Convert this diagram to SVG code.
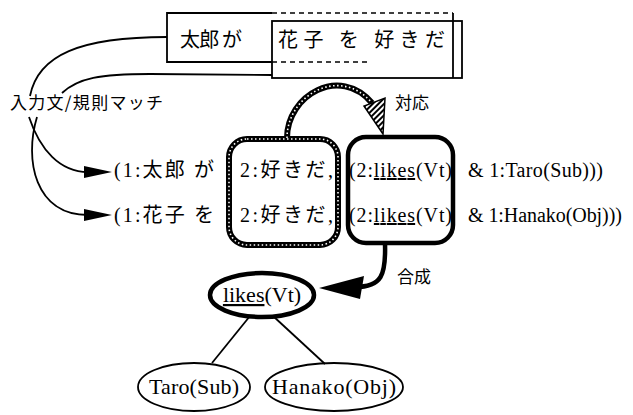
<svg xmlns="http://www.w3.org/2000/svg" width="633" height="415" viewBox="0 0 633 415">
<style>
.ln{fill:none;stroke:#000;stroke-width:1.8}
.dash{fill:none;stroke:#000;stroke-width:1.6;stroke-dasharray:5 4}
.thick{fill:none;stroke:#000;stroke-width:4.5}
.hb{fill:none;stroke:#000;stroke-width:6}
.hw{fill:none;stroke:#fff;stroke-width:1.6;stroke-dasharray:1.5 2.5}
.jp{font-family:"Noto Sans CJK JP","Noto Sans",sans-serif;fill:#000}
.rm{font-family:"Liberation Serif","Noto Sans CJK JP",serif;fill:#000}
</style>
<defs>
<pattern id="hatch" width="4" height="4" patternUnits="userSpaceOnUse" patternTransform="rotate(45)">
<rect width="4" height="4" fill="#fff"/><rect width="2" height="4" fill="#000"/>
</pattern>
</defs>
<rect width="633" height="415" fill="#fff"/>

<g id="sentence-box">
<path class="ln" d="M272 13 H167 V62 H272"/>
<path class="dash" d="M272 13 H453"/>
<path class="ln" d="M453 13 V78"/>
<path class="dash" d="M272 62 H367"/>
<rect class="ln" x="272" y="21" width="190" height="57"/>
<text class="jp" x="180" y="47" font-size="20" textLength="62">太郎 が</text>
<text class="jp" x="278" y="47" font-size="20" textLength="167">花子 を 好きだ</text>
</g>

<g id="match-label">
<text class="jp" x="10" y="109" font-size="17" textLength="153">入力文/規則マッチ</text>
</g>

<g id="rule-rows">
<text class="rm" x="114" y="177" font-size="20" textLength="100">(1:太郎 が</text>
<text class="rm" x="114" y="222" font-size="20" textLength="100">(1:花子 を</text>
<text class="rm" x="468" y="177" font-size="20" textLength="135">&amp; 1:Taro(Sub)))</text>
<text class="rm" x="468" y="222" font-size="20" textLength="154">&amp; 1:Hanako(Obj)))</text>
</g>

<g id="japanese-box">
<rect class="hb" x="229" y="139" width="109" height="106" rx="18"/>
<rect class="hw" x="229" y="139" width="109" height="106" rx="18"/>
<text class="rm" x="240" y="177" font-size="20" textLength="93">2:好きだ,</text>
<text class="rm" x="240" y="222" font-size="20" textLength="93">2:好きだ,</text>
</g>

<g id="english-box">
<rect class="thick" x="348" y="137" width="105" height="106" rx="18"/>
<text class="rm" x="349" y="177" font-size="20" textLength="103">(2:<tspan text-decoration="underline">likes</tspan>(Vt)</text>
<text class="rm" x="349" y="222" font-size="20" textLength="103">(2:<tspan text-decoration="underline">likes</tspan>(Vt)</text>
</g>

<g id="label-taiou">
<text class="jp" x="395" y="109" font-size="17">対応</text>
</g>
<g id="label-gousei">
<text class="jp" x="397" y="283" font-size="17">合成</text>
</g>

<g id="likes-node">
<ellipse class="thick" cx="262" cy="295" rx="52" ry="22"/>
<text class="rm" x="262" y="302" font-size="22" text-anchor="middle"><tspan text-decoration="underline">likes</tspan>(Vt)</text>
</g>
<g id="taro-node">
<ellipse class="ln" cx="194" cy="387" rx="56" ry="24"/>
<text class="rm" x="194" y="394" font-size="22" text-anchor="middle" textLength="90">Taro(Sub)</text>
</g>
<g id="hanako-node">
<ellipse class="ln" cx="334" cy="387" rx="69" ry="24"/>
<text class="rm" x="334" y="394" font-size="22" text-anchor="middle" textLength="124">Hanako(Obj)</text>
</g>

<g id="connectors">
<path class="ln" d="M30 96 C38 55 80 37 167 37"/>
<path class="ln" d="M62 93 C78 78 100 74 150 74 L272 75"/>
<path class="ln" d="M29 117 C40 150 60 172 88 172"/>
<polygon points="112,172 84,166 84,178" fill="#000"/>
<path class="ln" d="M37 117 C24 160 35 215 88 215"/>
<polygon points="112,215 84,209 84,221" fill="#000"/>
<path class="hb" d="M287 138 C287 95 340 65 372 103"/>
<path class="hw" d="M287 138 C287 95 340 65 372 103"/>
<polygon points="383,134 364,106 385,98" fill="url(#hatch)" stroke="#000" stroke-width="1.5"/>
<path class="thick" d="M385 243 C386 275 382 287 355 287"/>
<polygon points="319,288 364,276 360,299" fill="#000"/>
<path class="ln" d="M250 316 L212 363"/>
<path class="ln" d="M273 316 L325 364"/>
</g>
</svg>
